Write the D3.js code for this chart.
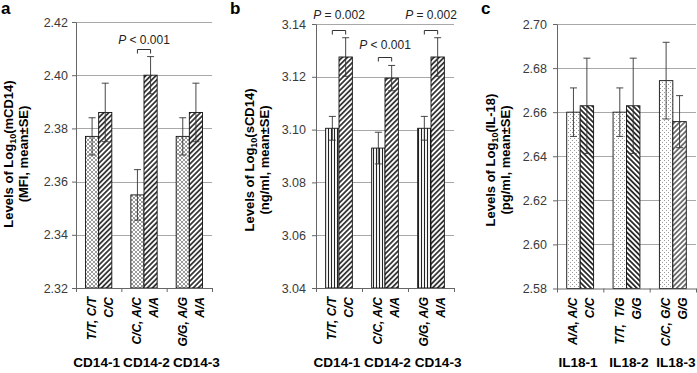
<!DOCTYPE html>
<html>
<head>
<meta charset="utf-8">
<script src="https://cdn.jsdelivr.net/npm/d3@7"></script>
<style>
  body { margin: 0; background: #fff; }
  svg { display: block; font-family: "Liberation Sans", Arial, sans-serif; }
</style>
</head>
<body>
<svg id="chart" width="697" height="373"></svg>
<script>
// ---- panel a : mCD14 ----
const aGroups = ["CD14-1", "CD14-2", "CD14-3"];
const aGeno1 = ["T/T, C/T", "C/C, A/C", "G/G, A/G"];
const aGeno2 = ["C/C", "A/A", "A/A"];
const aMeanL = [2.377, 2.355, 2.377];
const aSeL = [0.007, 0.0095, 0.007];
const aMeanR = [2.386, 2.400, 2.386];
const aSeR = [0.011, 0.007, 0.011];
const aPvals = ["", "< 0.001", ""];
const aTicks = [2.32, 2.34, 2.36, 2.38, 2.40, 2.42];

// ---- panel b : sCD14 ----
const bGroups = ["CD14-1", "CD14-2", "CD14-3"];
const bGeno1 = ["T/T, C/T", "C/C, A/C", "G/G, A/G"];
const bGeno2 = ["C/C", "A/A", "A/A"];
const bMeanL = [3.1005, 3.093, 3.1005];
const bSeL = [0.0045, 0.006, 0.0045];
const bMeanR = [3.1275, 3.1195, 3.1275];
const bSeR = [0.0073, 0.0048, 0.0073];
const bPvals = ["= 0.002", "< 0.001", "= 0.002"];
const bTicks = [3.04, 3.06, 3.08, 3.10, 3.12, 3.14];

// ---- panel c : IL-18 ----
const cGroups = ["IL18-1", "IL18-2", "IL18-3"];
const cGeno1 = ["A/A, A/C", "T/T,  T/G", "C/C, G/C"];
const cGeno2 = ["C/C", "G/G", "G/G"];
const cMeanL = [2.660, 2.660, 2.6743];
const cSeL = [0.011, 0.011, 0.0174];
const cMeanR = [2.6629, 2.6629, 2.6557];
const cSeR = [0.0216, 0.0216, 0.0118];
const cPvals = ["", "", ""];
const cTicks = [2.58, 2.60, 2.62, 2.64, 2.66, 2.68, 2.70];

const W = 697;
const svg = d3.select("#chart");
const defs = svg.append("defs");

// fill patterns
function diagPattern(id, w, angle, sw) {
    const p = defs.append("pattern").attr("id", id)
        .attr("patternUnits", "userSpaceOnUse")
        .attr("width", w).attr("height", w)
        .attr("patternTransform", "rotate(" + angle + ")");
    p.append("rect").attr("width", w).attr("height", w).attr("fill", "#fff");
    p.append("line").attr("x1", w / 2).attr("x2", w / 2).attr("y1", 0).attr("y2", w)
        .attr("stroke", "#111").attr("stroke-width", sw);
}
diagPattern("fwd", 3.6, 45, 1.5);
diagPattern("back", 3.6, -45, 1.6);
diagPattern("fwdThin", 3.6, 45, 1.1);

const xh = defs.append("pattern").attr("id", "xhatch")
    .attr("patternUnits", "userSpaceOnUse").attr("width", 4).attr("height", 4);
xh.append("rect").attr("width", 4).attr("height", 4).attr("fill", "#fff");
xh.append("path").attr("d", "M0,0L4,4M4,0L0,4").attr("stroke", "#7a7a7a").attr("stroke-width", 0.75);

const vt = defs.append("pattern").attr("id", "vert")
    .attr("patternUnits", "userSpaceOnUse").attr("width", 3).attr("height", 3);
vt.append("rect").attr("width", 3).attr("height", 3).attr("fill", "#fff");
vt.append("line").attr("x1", 1.5).attr("x2", 1.5).attr("y1", 0).attr("y2", 3)
    .attr("stroke", "#222").attr("stroke-width", 1.1);

const dt = defs.append("pattern").attr("id", "dots")
    .attr("patternUnits", "userSpaceOnUse").attr("width", 4).attr("height", 4);
dt.append("rect").attr("width", 4).attr("height", 4).attr("fill", "#fff");
dt.append("rect").attr("x", 0).attr("y", 0).attr("width", 1).attr("height", 1).attr("fill", "#9a9a9a");
dt.append("rect").attr("x", 2).attr("y", 2).attr("width", 1).attr("height", 1).attr("fill", "#9a9a9a");

function drawPanel(p) {
    const n = p.groups.length;
    const y = d3.scaleLinear().domain([p.ticks[0], p.ticks[p.ticks.length - 1]]).range([p.bottom, p.top]);
    const x = d3.scaleBand().domain(p.groups).range([p.left, p.right])
        .paddingInner(0.42).paddingOuter(0.21);
    const sub = d3.scaleBand().domain(["L", "R"]).range([0, x.bandwidth()]);
    const g = svg.append("g");

    // gridlines
    g.append("g").selectAll("line").data(p.ticks.slice(1)).join("line")
        .attr("x1", p.left).attr("x2", p.right)
        .attr("y1", d => Math.round(y(d)) + 0.5).attr("y2", d => Math.round(y(d)) + 0.5)
        .attr("stroke", "#a8a8a8").attr("stroke-width", 1);

    // bars
    const rows = p.groups.flatMap((grp, i) => [
        { grp, s: "L", mean: p.meanL[i], se: p.seL[i], fill: p.fillL[i] },
        { grp, s: "R", mean: p.meanR[i], se: p.seR[i], fill: p.fillR[i] }
    ]);
    const cx = d => x(d.grp) + sub(d.s) + sub.bandwidth() / 2;

    g.append("g").selectAll("rect").data(rows).join("rect")
        .attr("x", d => x(d.grp) + sub(d.s))
        .attr("y", d => y(d.mean))
        .attr("width", sub.bandwidth())
        .attr("height", d => p.bottom - y(d.mean))
        .attr("fill", d => "url(#" + d.fill + ")")
        .attr("stroke", "#111").attr("stroke-width", 0.9);

    // error bars
    const eb = g.append("g").attr("stroke", "#333").attr("stroke-width", 0.9);
    eb.selectAll(".v").data(rows).join("line").attr("class", "v")
        .attr("x1", cx).attr("x2", cx)
        .attr("y1", d => y(d.mean - d.se)).attr("y2", d => y(d.mean + d.se));
    eb.selectAll(".ct").data(rows).join("line").attr("class", "ct")
        .attr("x1", d => cx(d) - 3.5).attr("x2", d => cx(d) + 3.5)
        .attr("y1", d => y(d.mean + d.se)).attr("y2", d => y(d.mean + d.se));
    eb.selectAll(".cb").data(rows).join("line").attr("class", "cb")
        .attr("x1", d => cx(d) - 3.5).attr("x2", d => cx(d) + 3.5)
        .attr("y1", d => y(d.mean - d.se)).attr("y2", d => y(d.mean - d.se));

    // axes
    const ya = g.append("g").attr("transform", "translate(" + p.left + ",0)")
        .call(d3.axisLeft(y).tickValues(p.ticks).tickFormat(d3.format(".2f"))
            .tickSize(4).tickSizeOuter(0).tickPadding(p.pad));
    ya.selectAll("path, line").attr("stroke", "#666");
    ya.selectAll("text").attr("font-size", 12.5).attr("fill", "#3a3a3a")
        .attr("font-family", "Liberation Sans, Arial, sans-serif");

    const xb = d3.scaleLinear().domain([0, n]).range([p.left, p.right]);
    const xa = g.append("g").attr("transform", "translate(0," + p.bottom + ")")
        .call(d3.axisBottom(xb).tickValues(d3.range(n + 1)).tickFormat("")
            .tickSize(4).tickSizeOuter(0));
    xa.selectAll("path, line").attr("stroke", "#666");

    // genotype labels (rotated) and group names
    const mid = (p.left + p.right) / 2;
    p.groups.forEach((grp, i) => {
        const c = x(grp) + x.bandwidth() / 2;
        const t = g.append("g")
            .attr("transform", "translate(" + c + "," + (p.bottom + 9) + ") rotate(-90)")
            .attr("font-size", 12).attr("font-style", "italic").attr("font-weight", "bold")
            .attr("text-anchor", "end");
        t.append("text").attr("x", 0).attr("y", -2.7).text(p.geno1[i]).style("white-space", "pre");
        t.append("text").attr("x", 0).attr("y", 14.3).text(p.geno2[i]);
        const lbl = g.append("text").attr("y", 366.7)
            .attr("text-anchor", "middle").attr("font-size", 13.6).attr("font-weight", "bold")
            .text(grp);
        const half = lbl.node().getComputedTextLength() / 2;
        lbl.attr("x", Math.min(mid + 1.1 * (c - mid) + 2.5, W - 1.5 - half));
    });

    // P-value brackets
    p.groups.forEach((grp, i) => {
        if (!p.pvals[i]) return;
        const xL = x(grp) + sub("L") + sub.bandwidth() / 2;
        const xR = x(grp) + sub("R") + sub.bandwidth() / 2;
        const top = Math.round(Math.min(y(p.meanL[i] + p.seL[i]), y(p.meanR[i] + p.seR[i])) - 8) + 0.5;
        g.append("path")
            .attr("d", "M" + xL + "," + (top + 4) + "V" + top + "H" + xR + "V" + (top + 4))
            .attr("fill", "none").attr("stroke", "#333").attr("stroke-width", 1);
        const pt = g.append("text").attr("x", (xL + xR) / 2).attr("y", top - p.pLift[i])
            .attr("text-anchor", "middle").attr("font-size", 12).attr("fill", "#222");
        pt.append("tspan").attr("font-style", "italic").text("P");
        pt.append("tspan").text(" " + p.pvals[i]);
    });

    // y title
    const t1 = g.append("text")
        .attr("transform", "translate(" + p.t1x + "," + p.tcy + ") rotate(-90)")
        .attr("text-anchor", "middle").attr("font-size", 13).attr("font-weight", "bold");
    t1.append("tspan").text("Levels of Log");
    t1.append("tspan").attr("font-size", 9).attr("dy", 3).text("10");
    t1.append("tspan").attr("dy", -3).text("(" + p.measure + ")");
    g.append("text")
        .attr("transform", "translate(" + p.t2x + "," + p.tcy + ") rotate(-90)")
        .attr("text-anchor", "middle").attr("font-size", 13).attr("font-weight", "bold")
        .text("(" + p.unit + ", mean\u00b1SE)");

    // panel letter
    g.append("text").attr("x", p.letterX).attr("y", 14)
        .attr("font-size", 17).attr("font-weight", "bold").text(p.letter);
}

drawPanel({
    letter: "a", letterX: 1, left: 76, right: 212, top: 22, bottom: 288, pad: 4,
    ticks: aTicks, groups: aGroups, geno1: aGeno1, geno2: aGeno2,
    meanL: aMeanL, seL: aSeL, meanR: aMeanR, seR: aSeR, pvals: aPvals, pLift: [6, 6, 6],
    fillL: ["xhatch", "xhatch", "xhatch"], fillR: ["fwd", "fwd", "fwd"],
    measure: "mCD14", unit: "MFI", t1x: 13.3, t2x: 28.3, tcy: 154
});

drawPanel({
    letter: "b", letterX: 230, left: 316, right: 454, top: 24, bottom: 288, pad: 6,
    ticks: bTicks, groups: bGroups, geno1: bGeno1, geno2: bGeno2,
    meanL: bMeanL, seL: bSeL, meanR: bMeanR, seR: bSeR, pvals: bPvals, pLift: [12, 8.5, 12],
    fillL: ["vert", "vert", "vert"], fillR: ["fwd", "fwd", "fwd"],
    measure: "sCD14", unit: "ng/ml", t1x: 254, t2x: 269, tcy: 160
});

drawPanel({
    letter: "c", letterX: 481, left: 557, right: 696, top: 24, bottom: 288.5, pad: 6,
    ticks: cTicks, groups: cGroups, geno1: cGeno1, geno2: cGeno2,
    meanL: cMeanL, seL: cSeL, meanR: cMeanR, seR: cSeR, pvals: cPvals, pLift: [0, 0, 0],
    fillL: ["dots", "dots", "dots"], fillR: ["back", "back", "fwdThin"],
    measure: "IL-18", unit: "pg/ml", t1x: 495, t2x: 510, tcy: 160
});
</script>
</body>
</html>
